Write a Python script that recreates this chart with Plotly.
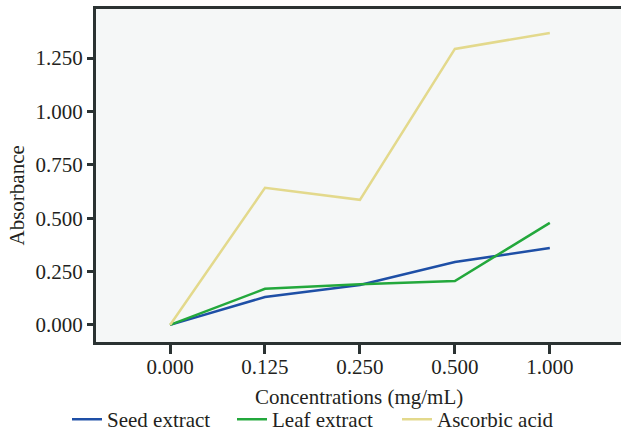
import plotly.graph_objects as go

concentrations = ["0.000", "0.125", "0.250", "0.500", "1.000"]
seed_extract = [0.0, 0.131, 0.187, 0.295, 0.360]
leaf_extract = [0.0, 0.169, 0.190, 0.206, 0.478]
ascorbic_acid = [0.0, 0.642, 0.586, 1.293, 1.368]
y_ticks = [0.0, 0.25, 0.5, 0.75, 1.0, 1.25]
y_tick_labels = ["0.000", "0.250", "0.500", "0.750", "1.000", "1.250"]

FONT = "Liberation Serif, Times New Roman, serif"
AXIS = "#2b3232"
TEXT = "#231f20"
FS = 21
W = 640  # wider than the window so the plot frame runs off the right edge, as in the reference

def px_x(p):
    return (p - 96) / (W - 96)

fig = go.Figure()
fig.add_trace(go.Scatter(x=concentrations, y=seed_extract, mode="lines", name="Seed extract",
                         line=dict(color="#1e4fa6", width=2.5)))
fig.add_trace(go.Scatter(x=concentrations, y=leaf_extract, mode="lines", name="Leaf extract",
                         line=dict(color="#23a83c", width=2.5)))
fig.add_trace(go.Scatter(x=concentrations, y=ascorbic_acid, mode="lines", name="Ascorbic acid",
                         line=dict(color="#e3d98c", width=2.5)))

fig.update_layout(
    width=W, height=433,
    margin=dict(l=96, r=0, t=9, b=91, autoexpand=False),
    paper_bgcolor="white",
    plot_bgcolor="#f5f7f7",
    font=dict(family=FONT, size=FS, color=TEXT),
    showlegend=True,
    legend=dict(orientation="h", x=px_x(67), xanchor="left", y=-0.233, yanchor="middle",
                font=dict(size=FS, family=FONT, color=TEXT), bgcolor="rgba(0,0,0,0)",
                itemwidth=30, tracegroupgap=0, entrywidth=120, entrywidthmode="pixels"),
    xaxis=dict(type="category", range=[-0.78, 4.95], showgrid=False, zeroline=False,
               showline=True, linecolor=AXIS, linewidth=3, mirror=True, automargin=False,
               ticks="outside", ticklen=9, tickwidth=2.5, tickcolor=AXIS,
               ticklabelstandoff=-5,
               tickfont=dict(size=FS, family=FONT, color=TEXT)),
    yaxis=dict(range=[-0.08, 1.48], showgrid=False, zeroline=False,
               showline=True, linecolor=AXIS, linewidth=3, automargin=False, mirror=False,
               ticks="outside", ticklen=6, tickwidth=2.5, tickcolor=AXIS,
               tickvals=y_ticks, ticktext=y_tick_labels,
               tickfont=dict(size=FS, family=FONT, color=TEXT)),
    annotations=[
        dict(text="Absorbance", xref="paper", yref="paper", x=px_x(17), y=0.44,
             textangle=-90, showarrow=False, xanchor="center", yanchor="middle",
             font=dict(size=FS, family=FONT, color=TEXT)),
        dict(text="Concentrations (mg/mL)", xref="paper", yref="paper", x=px_x(359), y=-0.165,
             showarrow=False, xanchor="center", yanchor="middle",
             font=dict(size=FS, family=FONT, color=TEXT)),
    ],
)

fig.write_html("out.html", config={"displayModeBar": False},
               post_script="document.body.style.margin='0';document.body.style.overflow='hidden';"
                           "document.documentElement.style.overflow='hidden';")
